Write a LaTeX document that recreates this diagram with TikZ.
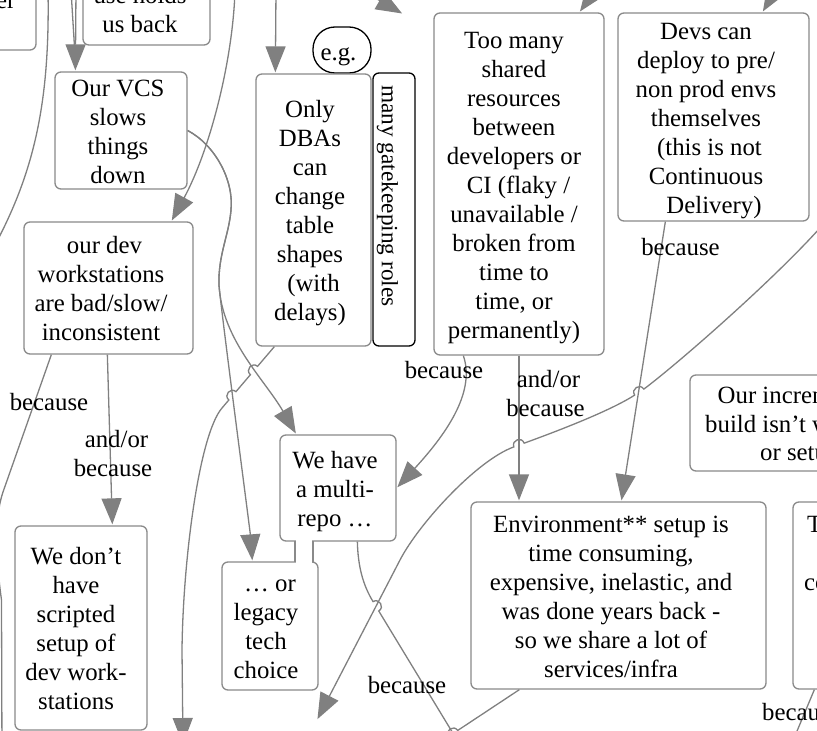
\documentclass[tikz,border=0pt]{standalone}
\usepackage{fontspec}
\setmainfont{Liberation Serif}
\usetikzlibrary{arrows.meta,calc,intersections}
\definecolor{edgegray}{RGB}{128,128,128}
\definecolor{boxgray}{RGB}{138,138,138}
\newcommand{\ms}{\rule[-5.5pt]{0pt}{29pt}}
\newcommand{\mkbump}[6]{%
  \coordinate (#1a) at ($(#2)!5.5pt!(#3)$);
  \coordinate (#1b) at ($(#2)!5.5pt!(#4)$);
  \coordinate (#1p) at ($(#1a)!7.3pt!#5:(#1b)$);
  \coordinate (#1q) at ($(#1b)!7.3pt!#6:(#1a)$);
}
\begin{document}
\begin{tikzpicture}[x=1pt,y=-1pt,
  box/.style={draw=boxgray, line width=1.3pt, rounded corners=6pt, fill=white, inner sep=0pt},
  kbox/.style={draw=black, line width=1.3pt, rounded corners=6pt, fill=white, inner sep=0pt},
  txt/.style={inner sep=0pt, align=center, font=\fontsize{24.8}{29}\selectfont, text=black},
  edge/.style={draw=edgegray, line width=1.3pt},
  arr/.style={edge, -{Triangle[length=26pt,width=20pt]}, shorten >=1pt},
]
\useasboundingbox (0,0) rectangle (817,731);
\fill[white] (0,0) rectangle (817,731);
\clip (0,0) rectangle (817,731);

% ---------- boxes
\node[box, minimum width=116pt, minimum height=130pt] (nTL) at (-22,-15) {};
\node[box, minimum width=127pt, minimum height=105pt] (nUse) at (146.5,-7.5) {};
\node[box, minimum width=132pt, minimum height=117pt] (nVCS) at (121,130.5) {};
\node[kbox, rounded corners=22pt, minimum width=58pt, minimum height=46pt] (nEg) at (342,50) {};
\node[box, minimum width=115pt, minimum height=272pt] (nDBA) at (313.5,210) {};
\node[kbox, minimum width=42pt, minimum height=273pt] (nGate) at (394,209.5) {};
\node[box, minimum width=170pt, minimum height=342pt] (nToo) at (519,184) {};
\node[box, minimum width=191pt, minimum height=208pt] (nDevs) at (713.5,117) {};
\node[box, minimum width=169pt, minimum height=132pt] (nDev) at (108.5,288) {};
\node[box, minimum width=116pt, minimum height=106pt] (nMulti) at (338,488) {};
\node[box, minimum width=96pt, minimum height=128pt] (nLegacy) at (270,626) {};
\node[box, minimum width=132pt, minimum height=204pt] (nScript) at (81,628) {};
\node[box, minimum width=295pt, minimum height=187pt] (nEnv) at (618.5,595.5) {};
\node[box, minimum width=207pt, minimum height=187pt] (nRight) at (896.5,595.5) {};
\node[box, minimum width=260pt, minimum height=96pt] (nIncr) at (820,423) {};

% neck joining multi-repo and legacy
\fill[white] (295.8,540) rectangle (312.2,563);
\draw[boxgray, line width=1.3pt] (295,541) -- (295,562) (313,541) -- (313,562);

% ---------- free coordinates
\coordinate (cA1) at (76,-10);
\coordinate (cA2) at (71,-10);
\coordinate (cA2e) at (74.5,47);
\coordinate (cB1) at (235,-10);
\coordinate (cC1) at (48,-10);
\coordinate (cC2) at (-5,245);
\coordinate (cD2) at (2,760);
\coordinate (cE2) at (183,745);
\coordinate (cF1) at (830,216.5);
\coordinate (e11m) at (400,560);
\coordinate (cF2) at (317,720);
\coordinate (cG2) at (479.7,777.3);
\coordinate (T4) at (386.2,778);
\coordinate (cH2) at (787,755);
\coordinate (cT1) at (334,-26);
\coordinate (cT1e) at (403,14);
\coordinate (cT2) at (614,-36);
\coordinate (cT3) at (793,-39);
\coordinate (cT4) at (276,-10);

% ---------- connectors
\draw[arr] (cA1) -- ([xshift=21pt]nVCS.north west);
\draw[edge] (cA2) -- (cA2e);
\draw[arr] (cB1) .. controls (233,60) and (210,150) .. ([xshift=148pt]nDev.north west);
\draw[edge] (cC1) .. controls (50,100) and (35,170) .. (cC2);
\draw[edge] ([xshift=28pt]nDev.south west) -- (3,492) .. controls (-6,518) and (-4,560) .. (1.5,600) -- (cD2);
\draw[arr] ([xshift=84pt]nDev.south west) -- ([xshift=98pt]nScript.north west);

\draw[arr, name path=pA] (nVCS.east) .. controls (215,145) and (234,180) .. (231,210)
  .. controls (229,235) and (218,255) .. (219,285)
  .. controls (222,340) and (265,380) .. ([xshift=17pt]nMulti.north west);
\draw[arr, name path=pB] (nVCS.east) .. controls (215,145) and (234,180) .. (231,210)
  .. controls (229,235) and (218,255) .. (219,285)
  .. controls (221,310) and (250,530) .. ([xshift=31pt]nLegacy.north west);

\coordinate (e7s) at ([xshift=19pt]nDBA.south west);
\coordinate (e7g) at (222,408);
\path[name path=pG] (e7s) -- (e7g);
\path[name intersections={of=pA and pG, by={X1}}];
\path[name intersections={of=pB and pG, by={X2}}];
\mkbump{ba}{X1}{e7s}{e7g}{-90}{90}
\mkbump{bb}{X2}{e7s}{e7g}{-90}{90}
\draw[arr] (e7s) -- (baa) .. controls (bap) and (baq) .. (bab) -- (bba) .. controls (bbp) and (bbq) .. (bbb)
  -- (e7g) .. controls (199,435) and (183,560) .. (182,650) -- (cE2);

\draw[arr] ([xshift=30pt]nToo.south west) .. controls (475,390) and (450,430) .. (nMulti.east);
\draw[arr] (nToo.south) -- (nToo.south |- nEnv.north);
\draw[arr] ([xshift=48pt]nDevs.south west) -- ([xshift=151pt]nEnv.north west);

\coordinate (C1) at (639.2,392);
\coordinate (F1) at (660,379);
\coordinate (T1) at (620,405);
\coordinate (C2) at (519,445);
\coordinate (F2) at (540,437.5);
\coordinate (T2) at (500,452);
\mkbump{bc}{C1}{F1}{T1}{-90}{90}
\mkbump{bd}{C2}{F2}{T2}{-90}{90}
\draw[arr] (cF1) .. controls (785,270) and (680,362) .. (bca) .. controls (bcp) and (bcq) .. (bcb)
  .. controls ($(bcb)!-30pt!(bca)$) and ($(bda)!-30pt!(bdb)$) .. (bda)
  .. controls (bdp) and (bdq) .. (bdb)
  .. controls ($(bdb)!-40pt!(bda)$) and (418.4,524.4) .. (e11m) -- (cF2);

\coordinate (C3) at (375.9,606.3);
\coordinate (F3) at (360.3,580.65);
\coordinate (T3) at (391.5,632);
\mkbump{be}{C3}{F3}{T3}{90}{-90}
\draw[edge] ([xshift=78pt]nMulti.south west) .. controls (358,566) and ($(bea)!-20pt!(beb)$) .. (bea)
  .. controls (bep) and (beq) .. (beb) -- (cG2);

\coordinate (e13s) at ([xshift=49pt]nEnv.south west);
\coordinate (C4) at (453.1,733.5);
\mkbump{bg}{C4}{e13s}{T4}{-90}{90}
\draw[edge] (e13s) -- (bga) .. controls (bgp) and (bgq) .. (bgb) -- (T4);

\draw[edge] ([xshift=22pt]nRight.south west) -- (cH2);

\draw[arr] (cT1) -- (cT1e);
\draw[arr] (cT2) -- ([xshift=146pt]nToo.north west);
\draw[arr] (cT3) -- ([xshift=145pt]nDevs.north west);
\draw[arr] (cT4) -- ([xshift=20pt]nDBA.north west);

% ---------- texts
\node[txt, anchor=base east] (tTL) at (15.5,8) {er};
\node[txt] (tUse) at (140,8.5) {\ms use holds\\us back\ms};
\node[txt] (tVCS) at (118,130.5) {\ms Our VCS\\slows\\things\\down\ms};
\node[txt] (tEg) at (338.5,51.5) {\ms e.g.\ms};
\node[txt] (tDBA) at (310,210) {\ms Only\\DBAs\\can\\change\\table\\shapes\\\hspace*{7pt}(with\\delays)\ms};
\node[txt, rotate=-90, font=\fontsize{23.3}{28}\selectfont] (tGate) at (387.5,196) {many gatekeeping roles};
\node[txt] (tToo) at (514,184) {\ms Too many\\shared\\resources\\between\\developers or\\\hspace*{9pt}CI (flaky /\\unavailable /\\broken from\\time to\\time, or\\permanently)\ms};
\node[txt] (tDevs) at (706,117) {\ms Devs can\\deploy to pre/\\non prod envs\\themselves\\\hspace*{7pt}(this is not\\Continuous\\\hspace*{16pt}Delivery)\ms};
\node[txt] (tDev) at (101,288) {\ms\hspace*{7pt}our dev\\workstations\\are bad/slow/\\inconsistent\ms};
\node[txt] (tMulti) at (335,488) {\ms We have\\a multi-\\repo …\ms};
\node[txt] (tLegacy) at (266,626) {\ms\hspace*{8pt}… or\\legacy\\tech\\choice\ms};
\node[txt] (tScript) at (76,628) {\ms We don’t\\have\\scripted\\setup of\\dev work-\\stations\ms};
\node[txt] (tEnv) at (611,595.5) {\ms Environment** setup is\\time consuming,\hspace*{3pt}\\expensive, inelastic, and\hspace*{14pt}\\was done years back -\hspace*{18pt}\\so we share a lot of\hspace*{10pt}\\services/infra\ms};
\node[txt, anchor=base west] (tR1) at (807,532) {T};
\node[txt, anchor=base west] (tR2) at (804,590) {co};
\node[txt, anchor=base west] (tI1) at (717.5,403) {Our increm};
\node[txt, anchor=base west] (tI2) at (705,432) {build isn’t w};
\node[txt, anchor=base west] (tI3) at (760,460) {or setup};

% ---------- connector labels
\node[txt] (l1) at (49,401) {\ms because\ms};
\node[txt] (l2) at (113,452.5) {\ms\hspace*{7pt}and/or\\because\ms};
\node[txt] (l3) at (444,369) {\ms because\ms};
\node[txt] (l4) at (545.5,392.5) {\ms\hspace*{6pt}and/or\\because\ms};
\node[txt] (l5) at (680.5,246) {\ms because\ms};
\node[txt] (l6) at (407,684) {\ms because\ms};
\node[txt, anchor=base west] (l7) at (762,720) {because};
\end{tikzpicture}
\end{document}
